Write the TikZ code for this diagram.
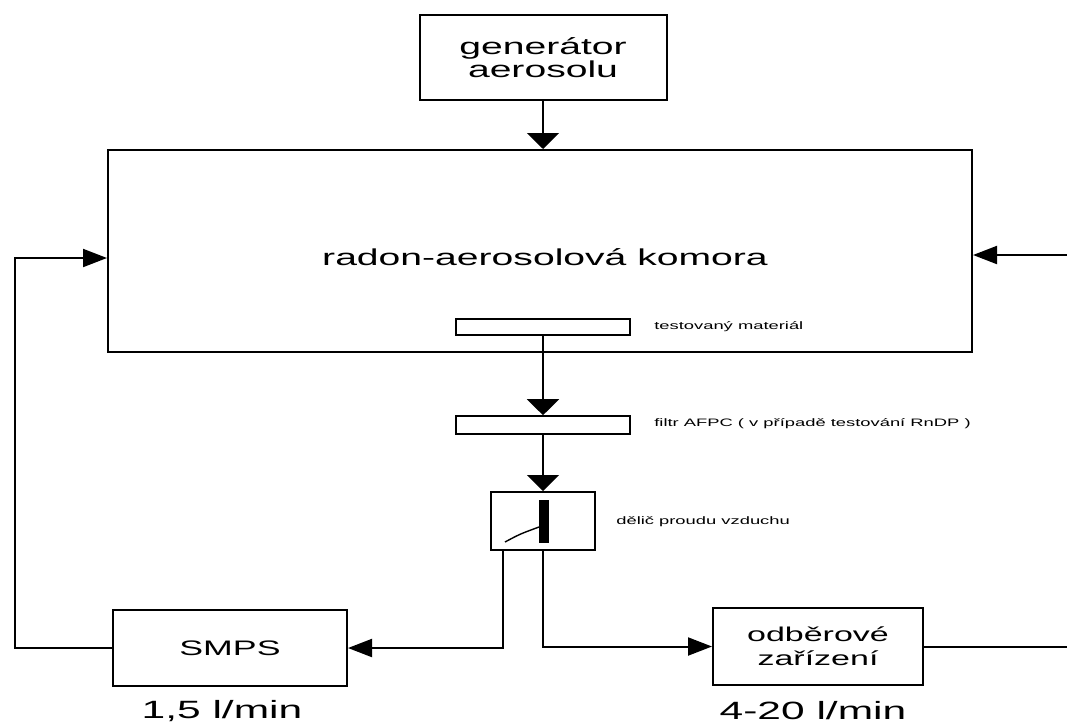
\documentclass[tikz,border=0pt]{standalone}
\usepackage{fontspec}
\setmainfont{Liberation Sans}[FakeStretch=1.7]
\usetikzlibrary{arrows.meta}
\begin{document}
\begin{tikzpicture}[x=1pt,y=-1pt,line width=2pt,
  box/.style={draw,line width=2pt,inner sep=0pt},
  thinbox/.style={draw,line width=1.6pt,inner sep=0pt},
  varr/.style={-{Triangle[length=16pt,width=32pt]}},
  harr/.style={-{Triangle[length=24pt,width=18pt]}},
  bigtext/.style={font=\fontsize{23}{23}\selectfont},
  midtext/.style={font=\fontsize{21}{24}\selectfont},
  ratetext/.style={font=\fontsize{25}{28}\selectfont},
  smalltext/.style={font=\fontsize{10.8}{12}\selectfont}]
\useasboundingbox (0,0) rectangle (1067,724);

% nodes
\node[box,bigtext,align=center,minimum width=247pt,minimum height=85pt] (gen) at (543,57.5) {generátor\\aerosolu};
\node[box,minimum width=864pt,minimum height=202pt] (ch) at (540,251) {};
\node[bigtext] (chl) at (545,257) {radon-aerosolová komora};
\node[thinbox,minimum width=174pt,minimum height=16pt] (mat) at (543,327) {};
\node[thinbox,minimum width=174pt,minimum height=18pt] (filt) at (543,425) {};
\node[box,minimum width=104pt,minimum height=58pt] (div) at (543,521) {};
\node[box,midtext,minimum width=234pt,minimum height=76pt] (smps) at (230,648) {SMPS};
\node[box,align=center,minimum width=210pt,minimum height=77pt,font=\fontsize{20}{24}\selectfont] (odb) at (818,646.5) {odběrové\\zařízení};

% labels
\node[smalltext,anchor=west] (tml) at (650,327) {testovaný materiál};
\node[smalltext,anchor=west] (fl) at (650,424) {filtr AFPC ( v případě testování RnDP )};
\node[smalltext,anchor=west] (dl) at (612,522) {dělič proudu vzduchu};
\node[ratetext] (r1) at (222,711) {1,5 l/min};
\node[ratetext] (r2) at (813,711) {4-20 l/min};

% divider symbol
\fill (539,500) rectangle (549,543);
\draw[line width=1.4pt] (505,542) .. controls (520,534) .. (539,527);

% coordinates for free ends
\coordinate (lc) at (15,258);
\coordinate (rin) at (1067,255);
\coordinate (rout) at (1067,646.5);

% connectors
\draw[varr] (gen.south) -- (gen.south |- ch.north);
\draw[varr] (mat.south) -- (filt.north);
\draw[varr] (filt.south) -- (div.north);
\draw[harr] ([xshift=-40pt]div.south) |- (smps.east);
\draw[harr] (div.south) |- (odb.west);
\draw[harr] (smps.west) -| (lc) -- ([yshift=-7pt]ch.west);
\draw[harr] (rin) -- (ch.east |- rin);
\draw (odb.east) -- (rout);
\end{tikzpicture}
\end{document}
